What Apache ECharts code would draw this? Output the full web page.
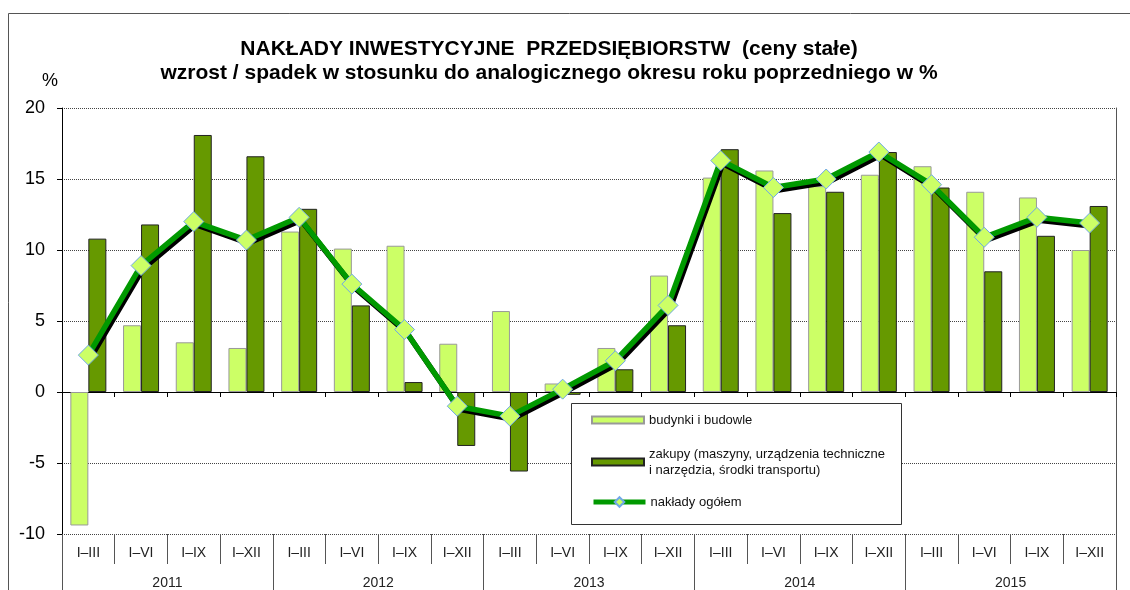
<!DOCTYPE html>
<html>
<head>
<meta charset="utf-8">
<script src="https://cdn.jsdelivr.net/npm/echarts@6/dist/echarts.min.js"></script>
<style>
  html, body { margin: 0; padding: 0; background: #fff; }
  #chart { width: 1130px; height: 590px; }
</style>
</head>
<body>
<div id="chart"></div>
<script>
// Quarterly cumulative periods, grouped by year
const periods = [
  'I–III', 'I–VI', 'I–IX', 'I–XII',
  'I–III', 'I–VI', 'I–IX', 'I–XII',
  'I–III', 'I–VI', 'I–IX', 'I–XII',
  'I–III', 'I–VI', 'I–IX', 'I–XII',
  'I–III', 'I–VI', 'I–IX', 'I–XII'
];
const years = ['2011', '2012', '2013', '2014', '2015'];

// Year-on-year change, %
const buildings = [-9.4, 4.7, 3.5, 3.1, 11.3, 10.1, 10.3, 3.4, 5.7, 0.6, 3.1, 8.2, 15.1, 15.6, 14.5, 15.3, 15.9, 14.1, 13.7, 10.0];
const purchases = [10.8, 11.8, 18.1, 16.6, 12.9, 6.1, 0.7, -3.8, -5.6, -0.2, 1.6, 4.7, 17.1, 12.6, 14.1, 16.9, 14.4, 8.5, 11.0, 13.1];
const total     = [2.6, 8.9, 12.0, 10.7, 12.3, 7.6, 4.4, -1.0, -1.7, 0.2, 2.2, 6.1, 16.3, 14.4, 15.0, 16.9, 14.6, 10.9, 12.3, 11.9];

const seriesNames = [
  'budynki i budowle',
  'zakupy (maszyny, urządzenia techniczne\ni narzędzia, środki transportu)',
  'nakłady ogółem'
];

const FONT = '"Liberation Sans", Arial, sans-serif';

const chart = echarts.init(document.getElementById('chart'), null, { renderer: 'canvas' });

const legendText = { fontFamily: FONT, fontSize: 13, color: '#111', lineHeight: 16 };

chart.setOption({
  animation: false,
  backgroundColor: '#fff',
  textStyle: { fontFamily: FONT },
  title: {
    text: 'NAKŁADY INWESTYCYJNE  PRZEDSIĘBIORSTW  (ceny stałe)',
    subtext: 'wzrost / spadek w stosunku do analogicznego okresu roku poprzedniego w %',
    left: 544,
    textAlign: 'center',
    top: 34,
    itemGap: 3,
    textStyle: { fontFamily: FONT, fontSize: 21, fontWeight: 'bold', color: '#000' },
    subtextStyle: { fontFamily: FONT, fontSize: 21, fontWeight: 'bold', color: '#000' }
  },
  graphic: [
    {
      type: 'rect',
      silent: true,
      shape: { x: 8.5, y: 13.5, width: 1200, height: 700 },
      style: { fill: 'none', stroke: '#555', lineWidth: 1 }
    },
    {
      type: 'rect',
      silent: true,
      z: 5,
      shape: { x: 571.5, y: 403.5, width: 330, height: 121 },
      style: { fill: '#fff', stroke: '#333', lineWidth: 1 }
    }
  ],
  legend: [
    {
      data: [seriesNames[0]], left: 586, top: 407, z: 10,
      itemWidth: 52, itemHeight: 7, icon: 'rect', textStyle: legendText
    },
    {
      data: [seriesNames[1]], left: 586, top: 433, z: 10,
      itemWidth: 52, itemHeight: 7, icon: 'rect',
      textStyle: Object.assign({}, legendText, { padding: [16, 0, 0, 0] })
    },
    {
      data: [seriesNames[2]], left: 586, top: 489, z: 10,
      itemWidth: 52, itemHeight: 12,
      lineStyle: { width: 5, shadowBlur: 0, shadowOffsetX: 0, shadowOffsetY: 0, shadowColor: 'transparent' },
      textStyle: legendText
    }
  ],
  grid: { left: 62, right: 14, top: 108, bottom: 56 },
  xAxis: [
    {
      type: 'category',
      data: periods,
      axisLine: { onZero: true, lineStyle: { color: '#000', width: 1 } },
      axisTick: { show: true, length: 5, lineStyle: { color: '#000' } },
      axisLabel: { show: false },
      splitLine: { show: false }
    },
    {
      type: 'category',
      data: periods,
      position: 'bottom',
      axisLine: { show: false, onZero: false },
      axisTick: { show: true, length: 30, lineStyle: { color: '#555' } },
      axisLabel: { margin: 12, fontSize: 14, color: '#222', fontFamily: FONT, interval: 0 },
      splitLine: { show: false }
    },
    {
      type: 'category',
      data: years,
      position: 'bottom',
      axisLine: { show: false, onZero: false },
      axisTick: { show: true, length: 62, lineStyle: { color: '#555' } },
      axisLabel: { margin: 42, fontSize: 14, color: '#222', fontFamily: FONT, interval: 0 },
      splitLine: { show: false }
    }
  ],
  yAxis: [
    {
      type: 'value',
      min: -10,
      max: 20,
      interval: 5,
      name: '%',
      nameLocation: 'end',
      nameGap: 18,
      nameTextStyle: { fontFamily: FONT, fontSize: 18, color: '#000', align: 'right', padding: [0, 4, 0, 0] },
      axisLine: { show: true, lineStyle: { color: '#000', width: 1 } },
      axisTick: { show: true, length: 5, lineStyle: { color: '#000' } },
      axisLabel: { fontSize: 18, color: '#000', margin: 17, fontFamily: FONT },
      splitLine: { show: true, lineStyle: { type: 'dotted', color: '#444', width: 1 } }
    },
    {
      type: 'value',
      min: -10,
      max: 20,
      interval: 5,
      position: 'right',
      axisLine: { show: true, onZero: false, lineStyle: { color: '#555', width: 1 } },
      axisTick: { show: false },
      axisLabel: { show: false },
      splitLine: { show: false }
    }
  ],
  series: [
    {
      name: seriesNames[0],
      type: 'bar',
      data: buildings,
      barWidth: 18,
      barGap: '0%',
      itemStyle: { color: '#ccff66', borderColor: '#999', borderWidth: 1 }
    },
    {
      name: seriesNames[1],
      type: 'bar',
      data: purchases,
      barWidth: 18,
      barGap: '0%',
      itemStyle: { color: '#669900', borderColor: '#222', borderWidth: 1 }
    },
    {
      name: seriesNames[2],
      type: 'line',
      data: total,
      z: 4,
      symbol: 'diamond',
      symbolSize: 20,
      lineStyle: {
        color: '#009900', width: 5.5,
        shadowColor: '#000', shadowBlur: 0, shadowOffsetX: 2, shadowOffsetY: 3
      },
      itemStyle: { color: '#ccff66', borderColor: '#6fa8e8', borderWidth: 1 }
    }
  ]
});
</script>
</body>
</html>
